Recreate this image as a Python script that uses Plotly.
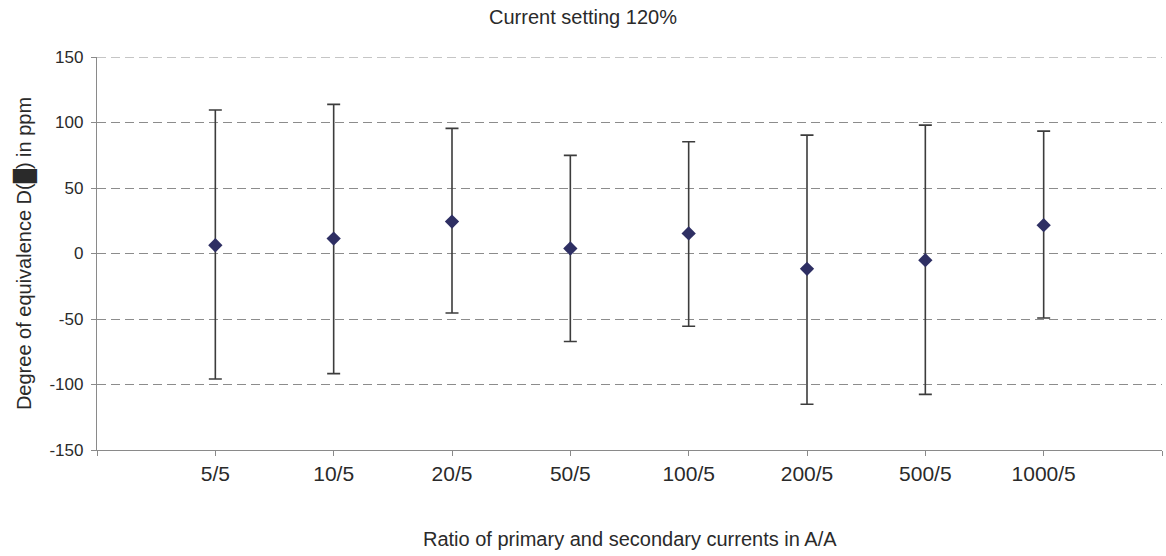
import plotly.graph_objects as go

categories = ["5/5", "10/5", "20/5", "50/5", "100/5", "200/5", "500/5", "1000/5"]
values = [6.3, 11.4, 24.4, 3.8, 15.3, -11.7, -5.1, 21.6]
upper = [109.5, 113.8, 95.5, 74.9, 85.3, 90.4, 98.0, 93.4]
lower = [-95.8, -91.7, -45.4, -67.2, -55.5, -115.1, -107.5, -49.2]
y_ticks = [-150, -100, -50, 0, 50, 100, 150]

x_pos = list(range(1, len(categories) + 1))
err_plus = [u - v for u, v in zip(upper, values)]
err_minus = [v - l for v, l in zip(values, lower)]

FONT = "Liberation Sans, Arial, sans-serif"
TXT = "#2a2a2a"
GRID = "#8c8c8c"

fig = go.Figure()
fig.add_trace(go.Scatter(
    x=x_pos, y=values, mode="markers",
    marker=dict(symbol="diamond", size=11, color="#2e2f63", line=dict(width=0)),
    error_y=dict(type="data", symmetric=False, array=err_plus, arrayminus=err_minus,
                 color="#3c3c3c", thickness=1.6, width=6.5),
    showlegend=False,
))

# top gridline (plotly suppresses gridlines on the plot edge)
fig.add_shape(type="line", xref="paper", x0=0, x1=1, yref="y",
              y0=y_ticks[-1], y1=y_ticks[-1],
              line=dict(color=GRID, width=1, dash="9px,5px"), layer="below")

fig.update_layout(
    width=1166, height=556,
    margin=dict(l=97, r=4, t=57, b=106),
    paper_bgcolor="white", plot_bgcolor="white",
    font=dict(family=FONT, color=TXT, size=20),
    title=dict(text="Current setting 120%", x=0.5, xref="container", y=1 - 17 / 556,
               yref="container", yanchor="middle", xanchor="center",
               font=dict(size=20, color=TXT, family=FONT)),
    xaxis=dict(
        range=[0, len(categories) + 1],
        tickmode="array",
        tickvals=list(range(0, len(categories) + 2)),
        ticktext=[""] + categories + [""],
        showgrid=False, zeroline=False,
        showline=True, linecolor="#8a8a8a", linewidth=1.3,
        ticks="outside", ticklen=5, tickcolor="#8a8a8a", tickwidth=1.3,
        tickfont=dict(size=21, color=TXT, family=FONT),
    ),
    yaxis=dict(
        range=[-150, 150],
        tickmode="array", tickvals=y_ticks,
        ticktext=[str(t) for t in y_ticks],
        showgrid=True, gridcolor=GRID, griddash="9px,5px", gridwidth=1,
        zeroline=False,
        showline=True, linecolor="#8a8a8a", linewidth=1.3,
        ticks="outside", ticklen=5, tickcolor="#8a8a8a", tickwidth=1.3,
        ticklabelstandoff=4,
        tickfont=dict(size=17, color=TXT, family=FONT),
    ),
    annotations=[
        dict(text="Ratio of primary and secondary currents in A/A",
             xref="paper", yref="paper", x=0.5, y=-0.227,
             xanchor="center", yanchor="middle", showarrow=False,
             font=dict(size=20, color=TXT, family=FONT)),
        dict(text="Degree of equivalence D(█) in ppm",
             xref="paper", yref="paper", x=-0.068, y=0.5, textangle=-90,
             xanchor="center", yanchor="middle", showarrow=False,
             font=dict(size=20, color=TXT, family=FONT)),
    ],
)

fig.write_html("out.html", config={"displayModeBar": False},
               post_script="document.body.style.margin='0';")
